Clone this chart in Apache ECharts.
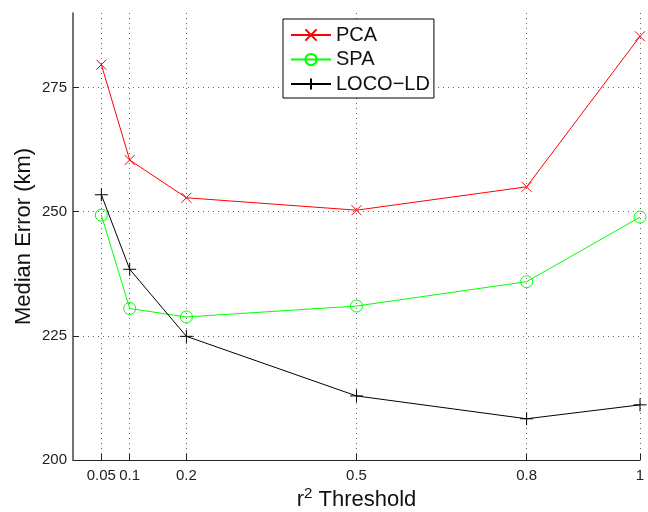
<!DOCTYPE html>
<html>
<head>
<meta charset="utf-8">
<script src="https://cdn.jsdelivr.net/npm/echarts@6/dist/echarts.min.js"></script>
<style>
  html, body { margin: 0; padding: 0; background: #fff; }
  #chart { width: 648px; height: 512px; }
</style>
</head>
<body>
<div id="chart"></div>
<script>
// r^2 threshold values (x positions of each measurement)
const thresholds = [0.05, 0.1, 0.2, 0.5, 0.8, 1];
// Median localisation error (km) for each method
const pcaError = [279.6, 260.4, 252.8, 250.3, 255.0, 285.3];
const spaError = [249.3, 230.5, 228.8, 231.0, 235.9, 248.9];
const locoError = [253.4, 238.4, 224.9, 212.9, 208.3, 211.1];
// Axis tick positions and labels
const xTicks = [0.05, 0.1, 0.2, 0.5, 0.8, 1];
const xTickLabels = ['0.05', '0.1', '0.2', '0.5', '0.8', '1'];
const yTicks = [200, 225, 250, 275];

const FONT = 'Liberation Sans, Arial, Helvetica, sans-serif';

function pairs(xs, ys) {
  return xs.map((x, i) => [x, ys[i]]);
}

const gridLine = { show: true, lineStyle: { color: '#666', width: 1, type: [1, 4] } };

const chart = echarts.init(document.getElementById('chart'), null, { renderer: 'canvas' });

chart.setOption({
  animation: false,
  backgroundColor: '#fff',
  grid: { left: 73, right: 8, top: 13, bottom: 52, containLabel: false, outerBoundsMode: 'none' },
  xAxis: {
    type: 'value',
    min: 0,
    max: 1,
    name: '{r|r}{sup|2}{r| Threshold}',
    nameLocation: 'middle',
    nameGap: 25,
    nameMoveOverlap: false,
    nameTextStyle: {
      fontFamily: FONT,
      color: '#111',
      rich: {
        r: { fontSize: 22, fontFamily: FONT, color: '#111', verticalAlign: 'bottom', lineHeight: 26 },
        sup: { fontSize: 15, fontFamily: FONT, color: '#111', verticalAlign: 'bottom', lineHeight: 26, padding: [0, 0, 10, 0] }
      }
    },
    axisLine: { show: true, lineStyle: { color: '#222', width: 1 } },
    axisTick: { show: true, inside: true, length: 6, customValues: xTicks, lineStyle: { color: '#222' } },
    axisLabel: {
      customValues: xTicks,
      margin: 8,
      fontSize: 15,
      fontFamily: FONT,
      color: '#222',
      formatter: v => {
        const i = xTicks.findIndex(t => Math.abs(t - v) < 1e-9);
        return i >= 0 ? xTickLabels[i] : '';
      }
    },
    splitLine: gridLine
  },
  yAxis: {
    type: 'value',
    min: 200,
    max: 290,
    name: 'Median Error (km)',
    nameLocation: 'middle',
    nameGap: 38,
    nameMoveOverlap: false,
    nameTextStyle: { fontSize: 22, fontFamily: FONT, color: '#111' },
    axisLine: { show: true, lineStyle: { color: '#444', width: 1.5 } },
    axisTick: { show: true, inside: true, length: 6, customValues: yTicks, lineStyle: { color: '#222' } },
    axisLabel: { customValues: yTicks, margin: 6, fontSize: 15, fontFamily: FONT, color: '#222' },
    splitLine: gridLine
  },
  legend: {
    orient: 'vertical',
    left: 283,
    top: 19,
    backgroundColor: '#fff',
    borderColor: '#000',
    borderWidth: 1,
    padding: [6, 4, 4, 7],
    itemWidth: 40,
    itemHeight: 14,
    itemGap: 4.5,
    textStyle: { fontSize: 20, fontFamily: FONT, color: '#111', lineHeight: 20 },
    data: ['PCA', 'SPA', 'LOCO\u2212LD']
  },
  series: [
    {
      name: 'PCA',
      type: 'line',
      data: pairs(thresholds, pcaError),
      symbol: 'path://M0,0L10,10M10,0L0,10',
      symbolSize: 10,
      showAllSymbol: true,
      lineStyle: { color: '#ff0000', width: 1 },
      itemStyle: { color: 'none', borderColor: '#ff0000', borderWidth: 1 }
    },
    {
      name: 'SPA',
      type: 'line',
      data: pairs(thresholds, spaError),
      symbol: 'circle',
      symbolSize: 12,
      showAllSymbol: true,
      lineStyle: { color: '#00ff00', width: 1 },
      itemStyle: { color: 'none', borderColor: '#00ff00', borderWidth: 1 }
    },
    {
      name: 'LOCO\u2212LD',
      type: 'line',
      data: pairs(thresholds, locoError),
      symbol: 'path://M5,0L5,10M0,5L10,5',
      symbolSize: 13,
      showAllSymbol: true,
      lineStyle: { color: '#000000', width: 1 },
      itemStyle: { color: 'none', borderColor: '#000000', borderWidth: 1 }
    }
  ]
});
</script>
</body>
</html>
